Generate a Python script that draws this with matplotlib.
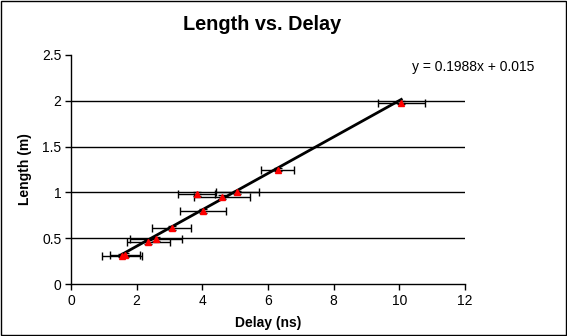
import numpy as np
import matplotlib
matplotlib.use("Agg")
import matplotlib.pyplot as plt

plt.rcParams['font.family'] = ['Liberation Sans', 'DejaVu Sans']

# measured points
delay = [1.55, 1.65, 2.36, 2.59, 3.07, 3.83, 4.01, 4.59, 5.07, 6.30, 10.06]
length = [0.31, 0.32, 0.46, 0.49, 0.61, 0.98, 0.80, 0.95, 1.00, 1.25, 1.98]
delay_err = [0.60, 0.45, 0.66, 0.80, 0.60, 0.57, 0.70, 0.85, 0.65, 0.50, 0.71]
length_err = [0.02] * 11

# trendline
slope = 0.1988
intercept = 0.015

fig = plt.figure(figsize=(5.67, 3.36), dpi=100)
ax = fig.add_axes([71/567, 52/336, 394/567, 229/336])

ax.errorbar(delay, length, xerr=delay_err, yerr=length_err, fmt='none',
            ecolor='black', elinewidth=1, capsize=3, capthick=1, zorder=3)
xs = np.array([min(delay), max(delay)])
ax.plot(xs, slope*xs + intercept, color='black', lw=2, zorder=4)
ax.plot(delay, length, '^', color='red', markersize=4, mec='red', zorder=5)

ax.set_xlim(0, 12)
ax.set_ylim(0, 2.5)
ax.set_xticks(range(0, 13, 2))
ax.set_yticks([0, 0.5, 1, 1.5, 2, 2.5])
ax.set_yticklabels(['0', '0.5', '1', '1.5', '2', '2.5'])
for yv in [0.5, 1, 1.5, 2]:
    ax.axhline(yv, color='black', lw=1, zorder=1)

for s in ['top', 'right']:
    ax.spines[s].set_visible(False)
ax.spines['left'].set_linewidth(1)
ax.spines['bottom'].set_linewidth(1)
ax.tick_params(direction='out', length=4, width=1, labelsize=10, pad=3)

ax.set_xlabel('Delay (ns)', fontsize=10, fontweight='bold', labelpad=6)
ax.set_ylabel('Length (m)', fontsize=10, fontweight='bold', labelpad=7)
fig.text(262/567, 1 - 25/336, 'Length vs. Delay', ha='center', va='center',
         fontsize=14.3, fontweight='bold')
fig.text(473/567, 1 - 67/336, 'y = 0.1988x + 0.015', ha='center', va='center',
         fontsize=10)

fig.patches.append(plt.Rectangle((0.001, 0.002), 0.997, 0.995, transform=fig.transFigure,
                                 fill=False, edgecolor='black', lw=1))

fig.savefig('out.png', dpi=100)
